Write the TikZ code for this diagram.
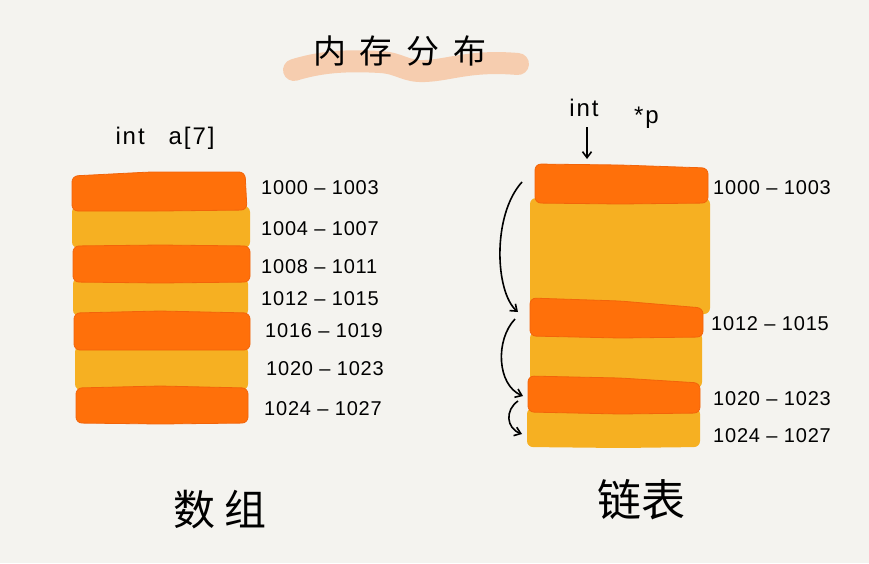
\documentclass[tikz,border=0pt]{standalone}
\usepackage{fontspec}
\setmainfont{Liberation Sans}
\newfontfamily\cjk{Noto Sans CJK SC}
\usetikzlibrary{arrows.meta}
\definecolor{bgc}{HTML}{F4F3EF}
\definecolor{org}{HTML}{FF700A}
\definecolor{orgedge}{HTML}{F2640A}
\definecolor{yel}{HTML}{F6B022}
\definecolor{peach}{HTML}{F7C4A0}
\tikzset{
  orgband/.style={fill=org, draw=orgedge, line width=0.8pt, rounded corners=6pt},
  yelband/.style={fill=yel, rounded corners=6pt},
  addr/.style={anchor=west, inner sep=0pt, font=\fontsize{20}{20}\selectfont\addfontfeature{LetterSpace=4}},
  code/.style={inner sep=0pt, font=\fontsize{24}{24}\selectfont\addfontfeature{LetterSpace=8}},
  link/.style={-{Straight Barb[length=6pt,width=9pt]}, line width=1.6pt, black},
}
\begin{document}
\begin{tikzpicture}[x=1pt,y=-1pt]
\fill[bgc] (0,0) rectangle (869,563);
\useasboundingbox (0,0) rectangle (869,563);

% title highlight
\draw[peach, opacity=0.8, line width=22pt, line cap=round, line join=round]
  (294,70) .. controls (320,62) and (345,60) .. (380,62)
  .. controls (400,63) and (405,72) .. (425,71)
  .. controls (450,70) and (470,60) .. (518,64);
\node[inner sep=0pt] (title) at (400,51) {\cjk\fontsize{33}{33}\selectfont 内\hspace{14pt}存\hspace{14pt}分\hspace{14pt}布};

% left stack (array)
\node[code] (arr) at (165,138) {int\quad a[7]};
\fill[yelband] (72,206) -- (160,207) -- (250,206) -- (250,248) -- (72,248) -- cycle;
\fill[yelband] (73,278) -- (160,279) -- (248,278) -- (248,316) -- (73,316) -- cycle;
\fill[yelband] (75,346) -- (160,347) -- (248,346) -- (248,390) -- (75,390) -- cycle;
\path[orgband] (72,176) -- (150,172) -- (245,172) -- (247,210) -- (160,211) -- (72,211) -- cycle;
\path[orgband] (73,246) -- (160,245) -- (250,246) -- (250,282) -- (160,283) -- (73,282) -- cycle;
\path[orgband] (74,313) -- (160,311) -- (250,313) -- (250,350) -- (160,350) -- (74,350) -- cycle;
\path[orgband] (76,388) -- (160,386) -- (248,388) -- (248,423) -- (160,424) -- (76,423) -- cycle;

\node[addr] (a1) at (261,188) {1000 – 1003};
\node[addr] (a2) at (261,229) {1004 – 1007};
\node[addr] (a3) at (261,267) {1008 – 1011};
\node[addr] (a4) at (261,299) {1012 – 1015};
\node[addr] (a5) at (265,331) {1016 – 1019};
\node[addr] (a6) at (266,369) {1020 – 1023};
\node[addr] (a7) at (264,409) {1024 – 1027};

\node[inner sep=0pt] (arrlabel) at (220,510) {\cjk\fontsize{42}{42}\selectfont 数\hspace{10pt}组};

% right stack (linked list)
\node[code] (intw) at (584,108) {int};
\node[code, anchor=west] (ptr) at (634,118) {*p};
\coordinate (ptrtail) at (587,127);
\coordinate (ptrhead) at (587,159);
\draw[link] (ptrtail) -- (ptrhead);

\fill[yelband] (530,198) -- (620,199) -- (710,198) -- (710,314) -- (530,314) -- cycle;
\fill[yelband] (530,332) -- (620,333) -- (702,332) -- (702,388) -- (530,388) -- cycle;
\fill[yelband] (527,408) -- (620,409) -- (700,408) -- (700,447) -- (620,448) -- (527,447) -- cycle;
\path[orgband] (535,164) -- (620,165) -- (708,168) -- (708,203) -- (620,204) -- (535,203) -- cycle;
\path[orgband] (530,298) -- (620,301) -- (703,308) -- (703,337) -- (620,338) -- (530,336) -- cycle;
\path[orgband] (528,376) -- (620,378) -- (700,383) -- (700,413) -- (620,414) -- (528,412) -- cycle;

\node[addr] (b1) at (713,188) {1000 – 1003};
\node[addr] (b2) at (711,324) {1012 – 1015};
\node[addr] (b3) at (713,399) {1020 – 1023};
\node[addr] (b4) at (713,436) {1024 – 1027};

\coordinate (n1) at (522,182);
\coordinate (n2) at (518,312);
\coordinate (n3) at (515,319);
\coordinate (n4) at (523,396);
\coordinate (n5) at (518,401);
\coordinate (n6) at (522,434);
\draw[link] (n1) .. controls (492,215) and (495,292) .. (n2);
\draw[link] (n3) .. controls (495,340) and (497,385) .. (n4);
\draw[link] (n5) .. controls (505,410) and (506,428) .. (n6);

\node[inner sep=0pt] (listlabel) at (641,500) {\cjk\fontsize{44}{44}\selectfont 链表};
\end{tikzpicture}
\end{document}
